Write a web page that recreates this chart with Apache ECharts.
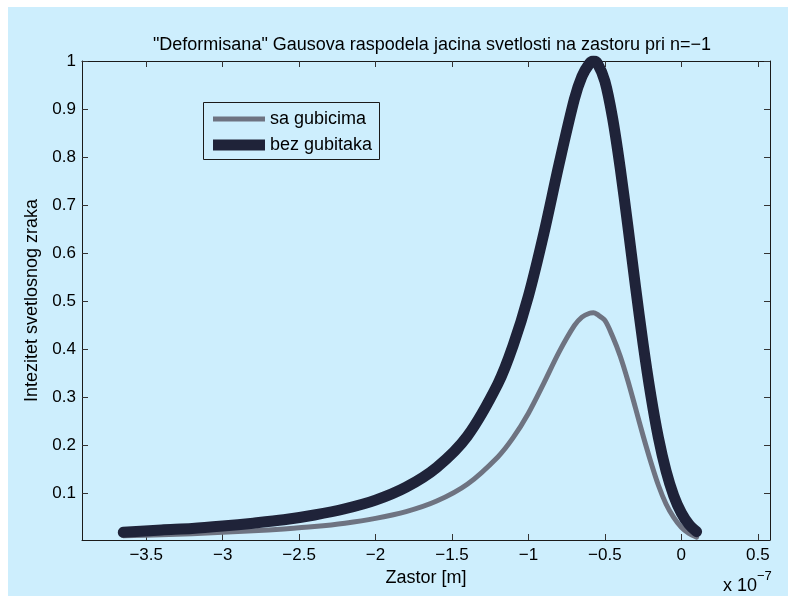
<!DOCTYPE html>
<html>
<head>
<meta charset="utf-8">
<script src="https://cdn.jsdelivr.net/npm/echarts@6/dist/echarts.min.js"></script>
<style>
html,body{margin:0;padding:0;background:#fff;}
#chart{width:788px;height:596px;}
</style>
</head>
<body>
<div id="chart"></div>
<script>
// x positions in units of 1e-7 m
const xValues = [-3.65, -3.4, -3.2, -3.0, -2.8, -2.6, -2.4, -2.2, -2.0, -1.8, -1.6, -1.4, -1.2, -1.1, -1.0, -0.9, -0.8, -0.7, -0.65, -0.6, -0.575, -0.55, -0.5, -0.45, -0.4, -0.35, -0.3, -0.25, -0.2, -0.15, -0.1, -0.05, 0.0, 0.05, 0.1];
// "sa gubicima" (with losses)
const saGubicima = [0.012, 0.014, 0.016, 0.019, 0.022, 0.026, 0.031, 0.038, 0.048, 0.062, 0.084, 0.119, 0.176, 0.216, 0.267, 0.329, 0.394, 0.449, 0.467, 0.475, 0.476, 0.4725, 0.460, 0.427, 0.386, 0.335, 0.278, 0.220, 0.166, 0.117, 0.078, 0.050, 0.0295, 0.0165, 0.009];
// "bez gubitaka" (without losses)
const bezGubitaka = [0.019, 0.024, 0.027, 0.032, 0.038, 0.045, 0.055, 0.068, 0.086, 0.113, 0.154, 0.219, 0.328, 0.408, 0.511, 0.64, 0.785, 0.92, 0.968, 0.995, 1.0, 0.996, 0.958, 0.882, 0.778, 0.657, 0.531, 0.411, 0.305, 0.216, 0.147, 0.0956, 0.0595, 0.0355, 0.0203];
const xTicks = [-3.5, -3, -2.5, -2, -1.5, -1, -0.5, 0, 0.5];
const yTicks = [0.1, 0.2, 0.3, 0.4, 0.5, 0.6, 0.7, 0.8, 0.9, 1];
const seriesNames = ['sa gubicima', 'bez gubitaka'];

const BG = '#cdeefd';
const FONT = '"Liberation Sans", Arial, Helvetica, sans-serif';
const fmt = v => {
  const s = String(Math.round(v * 100) / 100);
  return s.replace('-', '\u2212');
};

const pairs = ys => xValues.map((x, i) => [x, ys[i]]);

const chart = echarts.init(document.getElementById('chart'), null, {renderer: 'canvas'});
const axisLineStyle = {color: '#1a1a1a', width: 1};
const tickStyle = {color: '#333', width: 1};
const GRAY = '#6e7381';
const DARK = '#1f2339';

const legendBase = {
  orient: 'vertical', left: 213, padding: 0,
  itemWidth: 52, icon: 'rect',
  textStyle: {fontFamily: FONT, fontSize: 18, color: '#000'}
};

chart.setOption({
  backgroundColor: '#ffffff',
  animation: false,
  textStyle: {fontFamily: FONT},
  title: {
    text: '"Deformisana" Gausova raspodela jacina svetlosti na zastoru pri n=\u22121',
    left: 432, top: 36, textAlign: 'center', padding: 0,
    textStyle: {fontFamily: FONT, fontSize: 18, fontWeight: 'normal', color: '#000'}
  },
  graphic: [
    {type: 'rect', z: -10, silent: true, shape: {x: 8, y: 7, width: 780, height: 589}, style: {fill: BG}},
    {type: 'rect', z: 1, silent: true, shape: {x: 203.5, y: 102.5, width: 176, height: 57}, style: {fill: BG, stroke: '#1a1a1a', lineWidth: 1}},
    {type: 'text', x: 723, y: 586, style: {text: 'x 10', fontFamily: FONT, fontSize: 18, fill: '#000', textVerticalAlign: 'middle'}},
    {type: 'text', x: 757, y: 576, style: {text: '\u22127', fontFamily: FONT, fontSize: 13, fill: '#000', textVerticalAlign: 'middle'}}
  ],
  legend: [
    Object.assign({}, legendBase, {data: [seriesNames[0]], top: 110, itemHeight: 5}),
    Object.assign({}, legendBase, {data: [seriesNames[1]], top: 136, itemHeight: 11})
  ],
  grid: {left: 82, right: 18, top: 61, bottom: 56, containLabel: false},
  xAxis: [
    {
      type: 'value', min: -3.92, max: 0.58,
      name: 'Zastor [m]', nameLocation: 'middle', nameGap: 29,
      nameTextStyle: {fontFamily: FONT, fontSize: 18, color: '#000'},
      axisLine: {show: true, onZero: false, lineStyle: axisLineStyle},
      axisTick: {show: true, inside: true, length: 6, customValues: xTicks, lineStyle: tickStyle},
      axisLabel: {show: true, customValues: xTicks, formatter: fmt, margin: 7, fontFamily: FONT, fontSize: 17, color: '#000'},
      splitLine: {show: false}
    },
    {
      type: 'value', min: -3.92, max: 0.58, position: 'top',
      axisLine: {show: true, onZero: false, lineStyle: axisLineStyle},
      axisTick: {show: true, inside: true, length: 6, customValues: xTicks, lineStyle: tickStyle},
      axisLabel: {show: false},
      splitLine: {show: false}
    }
  ],
  yAxis: [
    {
      type: 'value', min: 0.003, max: 1, position: 'left',
      name: 'Intezitet svetlosnog zraka', nameLocation: 'middle', nameGap: 38, nameRotate: 90,
      nameTextStyle: {fontFamily: FONT, fontSize: 18, color: '#000'},
      axisLine: {show: true, onZero: false, lineStyle: axisLineStyle},
      axisTick: {show: true, inside: true, length: 6, customValues: yTicks, lineStyle: tickStyle},
      axisLabel: {show: true, customValues: yTicks, formatter: fmt, margin: 6, fontFamily: FONT, fontSize: 17, color: '#000'},
      splitLine: {show: false}
    },
    {
      type: 'value', min: 0.003, max: 1, position: 'right',
      axisLine: {show: true, onZero: false, lineStyle: axisLineStyle},
      axisTick: {show: true, inside: true, length: 6, customValues: yTicks, lineStyle: tickStyle},
      axisLabel: {show: false},
      splitLine: {show: false}
    }
  ],
  series: [
    {
      name: seriesNames[0], type: 'line', xAxisIndex: 0, yAxisIndex: 0,
      data: pairs(saGubicima), showSymbol: false, symbol: 'none',
      smooth: 0.3, clip: true,
      color: GRAY,
      lineStyle: {color: GRAY, width: 5, cap: 'round', join: 'round'}
    },
    {
      name: seriesNames[1], type: 'line', xAxisIndex: 0, yAxisIndex: 0,
      data: pairs(bezGubitaka), showSymbol: false, symbol: 'none',
      smooth: 0.3, clip: true,
      color: DARK,
      lineStyle: {color: DARK, width: 11, cap: 'round', join: 'round'}
    }
  ]
});
</script>
</body>
</html>
